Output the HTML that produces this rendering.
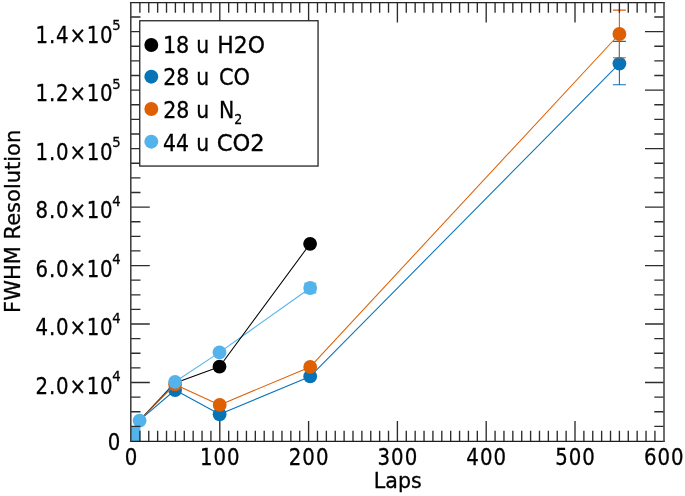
<!DOCTYPE html>
<html><head><meta charset="utf-8"><style>html,body{margin:0;padding:0;background:#fff;overflow:hidden;}svg{display:block;}</style></head>
<body>
<svg width="685" height="496" viewBox="0 0 685 496" font-family="'DejaVu Sans', 'Liberation Sans', sans-serif">
<style>text{stroke:#000;stroke-width:0.3px;}</style>
<rect width="685" height="496" fill="#fff"/>
<g>
<rect x="131.0" y="426.4" width="9.4" height="14.6" fill="#54B3EA"/>
<polyline points="139.6,420.6 175.1,381.8 219.5,352.4 310.2,288.0" fill="none" stroke="#54B3EA" stroke-width="1.05" stroke-linejoin="round"/>
<polyline points="139.5,420.3 175.1,383.0 219.5,366.7 310.1,243.8" fill="none" stroke="#000000" stroke-width="1.05" stroke-linejoin="round"/>
<circle cx="219.5" cy="366.7" r="6.9" fill="#000000"/><circle cx="310.1" cy="243.8" r="6.9" fill="#000000"/>
<polyline points="139.5,420.3 175.1,390.0 219.6,414.3 310.2,376.4 619.4,63.6" fill="none" stroke="#0874B8" stroke-width="1.05" stroke-linejoin="round"/>
<path d="M619.4,41.4V84.8M612.9,41.4H625.9M612.9,84.8H625.9" stroke="#0874B8" stroke-width="1.1" fill="none"/>
<circle cx="175.1" cy="390.0" r="6.9" fill="#0874B8"/><circle cx="219.6" cy="414.3" r="6.9" fill="#0874B8"/><circle cx="310.2" cy="376.4" r="6.9" fill="#0874B8"/><circle cx="619.4" cy="63.6" r="6.9" fill="#0874B8"/>
<polyline points="139.5,420.3 175.1,384.4 219.7,404.9 310.2,366.9 619.4,34.0" fill="none" stroke="#DF5F03" stroke-width="1.05" stroke-linejoin="round"/>
<path d="M619.4,10.1V57.8M612.9,10.1H625.9M612.9,57.8H625.9" stroke="#DF5F03" stroke-width="1.1" fill="none"/>
<circle cx="175.1" cy="384.4" r="6.9" fill="#DF5F03"/><circle cx="219.7" cy="404.9" r="6.9" fill="#DF5F03"/><circle cx="310.2" cy="366.9" r="6.9" fill="#DF5F03"/><circle cx="619.4" cy="34.0" r="6.9" fill="#DF5F03"/>
<path d="M310.2,283.2V292.9M304.0,283.2H316.4M304.0,292.9H316.4" stroke="#54B3EA" stroke-width="1.1" fill="none"/>
<circle cx="139.6" cy="420.6" r="6.9" fill="#54B3EA"/><circle cx="175.1" cy="381.8" r="6.9" fill="#54B3EA"/><circle cx="219.5" cy="352.4" r="6.9" fill="#54B3EA"/><circle cx="310.2" cy="288.0" r="6.9" fill="#54B3EA"/>
</g>
<path d="M139.88,441.0v-10.3M139.88,2.4v10.3M148.76,441.0v-10.3M148.76,2.4v10.3M157.64,441.0v-10.3M157.64,2.4v10.3M166.52,441.0v-10.3M166.52,2.4v10.3M175.40,441.0v-10.3M175.40,2.4v10.3M184.28,441.0v-10.3M184.28,2.4v10.3M193.16,441.0v-10.3M193.16,2.4v10.3M202.04,441.0v-10.3M202.04,2.4v10.3M210.92,441.0v-10.3M210.92,2.4v10.3M219.80,441.0v-20M219.80,2.4v20M228.68,441.0v-10.3M228.68,2.4v10.3M237.56,441.0v-10.3M237.56,2.4v10.3M246.44,441.0v-10.3M246.44,2.4v10.3M255.32,441.0v-10.3M255.32,2.4v10.3M264.20,441.0v-10.3M264.20,2.4v10.3M273.08,441.0v-10.3M273.08,2.4v10.3M281.96,441.0v-10.3M281.96,2.4v10.3M290.84,441.0v-10.3M290.84,2.4v10.3M299.72,441.0v-10.3M299.72,2.4v10.3M308.60,441.0v-20M308.60,2.4v20M317.48,441.0v-10.3M317.48,2.4v10.3M326.36,441.0v-10.3M326.36,2.4v10.3M335.24,441.0v-10.3M335.24,2.4v10.3M344.12,441.0v-10.3M344.12,2.4v10.3M353.00,441.0v-10.3M353.00,2.4v10.3M361.88,441.0v-10.3M361.88,2.4v10.3M370.76,441.0v-10.3M370.76,2.4v10.3M379.64,441.0v-10.3M379.64,2.4v10.3M388.52,441.0v-10.3M388.52,2.4v10.3M397.40,441.0v-20M397.40,2.4v20M406.28,441.0v-10.3M406.28,2.4v10.3M415.16,441.0v-10.3M415.16,2.4v10.3M424.04,441.0v-10.3M424.04,2.4v10.3M432.92,441.0v-10.3M432.92,2.4v10.3M441.80,441.0v-10.3M441.80,2.4v10.3M450.68,441.0v-10.3M450.68,2.4v10.3M459.56,441.0v-10.3M459.56,2.4v10.3M468.44,441.0v-10.3M468.44,2.4v10.3M477.32,441.0v-10.3M477.32,2.4v10.3M486.20,441.0v-20M486.20,2.4v20M495.08,441.0v-10.3M495.08,2.4v10.3M503.96,441.0v-10.3M503.96,2.4v10.3M512.84,441.0v-10.3M512.84,2.4v10.3M521.72,441.0v-10.3M521.72,2.4v10.3M530.60,441.0v-10.3M530.60,2.4v10.3M539.48,441.0v-10.3M539.48,2.4v10.3M548.36,441.0v-10.3M548.36,2.4v10.3M557.24,441.0v-10.3M557.24,2.4v10.3M566.12,441.0v-10.3M566.12,2.4v10.3M575.00,441.0v-20M575.00,2.4v20M583.88,441.0v-10.3M583.88,2.4v10.3M592.76,441.0v-10.3M592.76,2.4v10.3M601.64,441.0v-10.3M601.64,2.4v10.3M610.52,441.0v-10.3M610.52,2.4v10.3M619.40,441.0v-10.3M619.40,2.4v10.3M628.28,441.0v-10.3M628.28,2.4v10.3M637.16,441.0v-10.3M637.16,2.4v10.3M646.04,441.0v-10.3M646.04,2.4v10.3M654.92,441.0v-10.3M654.92,2.4v10.3M131.0,426.38h9.5M663.8,426.38h-9.5M131.0,411.76h9.5M663.8,411.76h-9.5M131.0,397.14h9.5M663.8,397.14h-9.5M131.0,382.52h18.8M663.8,382.52h-18.8M131.0,367.90h9.5M663.8,367.90h-9.5M131.0,353.28h9.5M663.8,353.28h-9.5M131.0,338.66h9.5M663.8,338.66h-9.5M131.0,324.04h18.8M663.8,324.04h-18.8M131.0,309.42h9.5M663.8,309.42h-9.5M131.0,294.80h9.5M663.8,294.80h-9.5M131.0,280.18h9.5M663.8,280.18h-9.5M131.0,265.56h18.8M663.8,265.56h-18.8M131.0,250.94h9.5M663.8,250.94h-9.5M131.0,236.32h9.5M663.8,236.32h-9.5M131.0,221.70h9.5M663.8,221.70h-9.5M131.0,207.08h18.8M663.8,207.08h-18.8M131.0,192.46h9.5M663.8,192.46h-9.5M131.0,177.84h9.5M663.8,177.84h-9.5M131.0,163.22h9.5M663.8,163.22h-9.5M131.0,148.60h18.8M663.8,148.60h-18.8M131.0,133.98h9.5M663.8,133.98h-9.5M131.0,119.36h9.5M663.8,119.36h-9.5M131.0,104.74h9.5M663.8,104.74h-9.5M131.0,90.12h18.8M663.8,90.12h-18.8M131.0,75.50h9.5M663.8,75.50h-9.5M131.0,60.88h9.5M663.8,60.88h-9.5M131.0,46.26h9.5M663.8,46.26h-9.5M131.0,31.64h18.8M663.8,31.64h-18.8M131.0,17.02h9.5M663.8,17.02h-9.5" stroke="#2c2c2c" stroke-width="1.35" fill="none"/>
<path d="M129.9,2.5H664.8" stroke="#222" stroke-width="1.25" fill="none"/>
<path d="M129.9,441.4H664.8" stroke="#1e1e1e" stroke-width="1.25" fill="none"/>
<path d="M130.8,1.9V442" stroke="#383838" stroke-width="1.5" fill="none"/>
<path d="M664.0,1.9V442" stroke="#4a4a4a" stroke-width="1.6" fill="none"/>
<rect x="139.75" y="20.75" width="178.3" height="145.3" fill="#fff" stroke="#262626" stroke-width="1.3"/>
<circle cx="151.3" cy="45.0" r="6.95" fill="#000000"/>
<text transform="translate(162.90,53.40) scale(0.945,1.06)" font-size="22">18</text>
<text transform="translate(196.21,53.40) scale(0.929,1.06)" font-size="22">u</text>
<text transform="translate(217.35,53.40) scale(0.998,1.06)" font-size="22">H2O</text>
<circle cx="151.3" cy="76.7" r="6.95" fill="#0874B8"/>
<text transform="translate(163.26,85.00) scale(0.931,1.06)" font-size="22">28</text>
<text transform="translate(196.21,85.00) scale(0.929,1.06)" font-size="22">u</text>
<text transform="translate(218.92,85.00) scale(0.953,1.06)" font-size="22">CO</text>
<circle cx="151.3" cy="109.0" r="6.95" fill="#DF5F03"/>
<text transform="translate(163.16,117.60) scale(0.935,1.06)" font-size="22">28</text>
<text transform="translate(196.21,117.60) scale(0.929,1.06)" font-size="22">u</text>
<text transform="translate(219.02,117.60) scale(0.93,1.06)" font-size="22">N</text>
<circle cx="151.3" cy="141.7" r="6.95" fill="#54B3EA"/>
<text transform="translate(163.08,150.90) scale(0.929,1.06)" font-size="22">44</text>
<text transform="translate(196.21,150.90) scale(0.929,1.06)" font-size="22">u</text>
<text transform="translate(216.64,150.90) scale(1.03,1.06)" font-size="22">CO2</text>
<text transform="translate(234.30,123.80) scale(1,1.16)" font-size="12.6">2</text>
<text transform="translate(131.50,464.60) scale(0.94,1.07)" font-size="21" text-anchor="middle" letter-spacing="1.1">0</text>
<text transform="translate(220.30,464.60) scale(0.94,1.07)" font-size="21" text-anchor="middle" letter-spacing="1.1">100</text>
<text transform="translate(309.10,464.60) scale(0.94,1.07)" font-size="21" text-anchor="middle" letter-spacing="1.1">200</text>
<text transform="translate(397.90,464.60) scale(0.94,1.07)" font-size="21" text-anchor="middle" letter-spacing="1.1">300</text>
<text transform="translate(486.70,464.60) scale(0.94,1.07)" font-size="21" text-anchor="middle" letter-spacing="1.1">400</text>
<text transform="translate(575.50,464.60) scale(0.94,1.07)" font-size="21" text-anchor="middle" letter-spacing="1.1">500</text>
<text transform="translate(664.30,464.60) scale(0.94,1.07)" font-size="21" text-anchor="middle" letter-spacing="1.1">600</text>
<text transform="translate(121.10,450.20) scale(0.94,1.07)" font-size="21" text-anchor="end" letter-spacing="0.85">0</text>
<text transform="translate(113.40,393.72) scale(0.94,1.07)" font-size="21" text-anchor="end" letter-spacing="0.85">2.0×10</text>
<text transform="translate(112.30,381.12) scale(1,1.0)" font-size="13.2">4</text>
<text transform="translate(113.40,335.24) scale(0.94,1.07)" font-size="21" text-anchor="end" letter-spacing="0.85">4.0×10</text>
<text transform="translate(112.30,322.64) scale(1,1.0)" font-size="13.2">4</text>
<text transform="translate(113.40,276.76) scale(0.94,1.07)" font-size="21" text-anchor="end" letter-spacing="0.85">6.0×10</text>
<text transform="translate(112.30,264.16) scale(1,1.0)" font-size="13.2">4</text>
<text transform="translate(113.40,218.28) scale(0.94,1.07)" font-size="21" text-anchor="end" letter-spacing="0.85">8.0×10</text>
<text transform="translate(112.30,205.68) scale(1,1.0)" font-size="13.2">4</text>
<text transform="translate(113.40,159.80) scale(0.94,1.07)" font-size="21" text-anchor="end" letter-spacing="0.85">1.0×10</text>
<text transform="translate(112.30,147.20) scale(1,1.0)" font-size="13.2">5</text>
<text transform="translate(113.40,101.32) scale(0.94,1.07)" font-size="21" text-anchor="end" letter-spacing="0.85">1.2×10</text>
<text transform="translate(112.30,88.72) scale(1,1.0)" font-size="13.2">5</text>
<text transform="translate(113.40,42.84) scale(0.94,1.07)" font-size="21" text-anchor="end" letter-spacing="0.85">1.4×10</text>
<text transform="translate(112.30,30.24) scale(1,1.0)" font-size="13.2">5</text>
<text transform="translate(397.80,488.40) scale(1,1.02)" font-size="20.6" text-anchor="middle">Laps</text>
<text transform="translate(19.8,221.3) rotate(-90)" font-size="21" text-anchor="middle">FWHM Resolution</text>
</svg>
</body></html>
